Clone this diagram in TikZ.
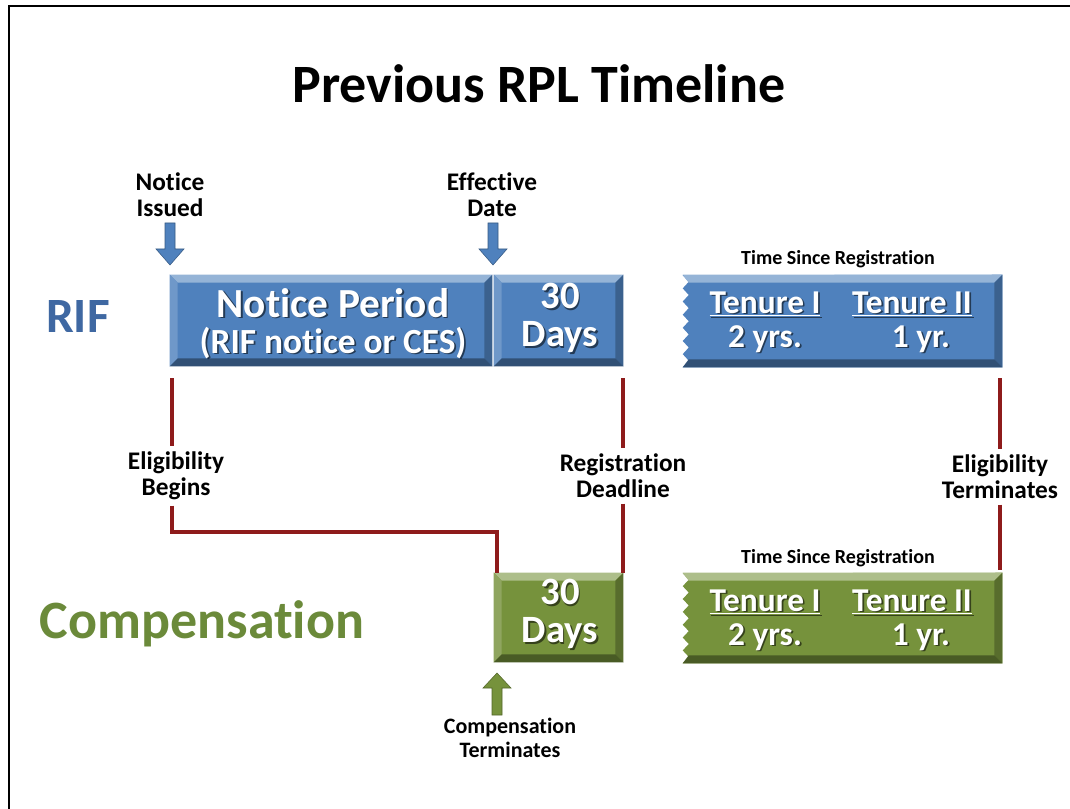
\documentclass[tikz,border=0pt]{standalone}
\usepackage{fontspec}
\setmainfont{Carlito}[Ligatures=CommonOff]
\usetikzlibrary{calc,fit}

\definecolor{rifblue}{HTML}{4F81BD}
\definecolor{rifword}{HTML}{3F68A2}
\definecolor{olive}{HTML}{76923C}
\definecolor{compword}{HTML}{6B8A3A}
\definecolor{linered}{HTML}{8E1B1B}

\newcommand\fs[2]{\fontsize{#1}{#2}\selectfont}

% bevelled rectangle over a fitted node
\newcommand\bevel[2]{%
  \fill[#2] (#1.north west) rectangle (#1.south east);
  \fill[#2!60!white] (#1.north west) -- (#1.north east) -- ($(#1.north east)+(-6pt,-6pt)$) -- ($(#1.north west)+(6pt,-6pt)$) -- cycle;
  \fill[#2!82!white] (#1.north west) -- ($(#1.north west)+(6pt,-6pt)$) -- ($(#1.south west)+(6pt,6pt)$) -- (#1.south west) -- cycle;
  \fill[#2!75!black] (#1.north east) -- (#1.south east) -- ($(#1.south east)+(-6pt,6pt)$) -- ($(#1.north east)+(-6pt,-6pt)$) -- cycle;
  \fill[#2!62!black] (#1.south west) -- (#1.south east) -- ($(#1.south east)+(-6pt,6pt)$) -- ($(#1.south west)+(6pt,6pt)$) -- cycle;
}

% bevelled box with a torn (zigzag) left edge; #3 = half tooth height
\newcommand\jagbox[3]{%
  \fill[#2] (#1.north east) -- (#1.south east) -- (#1.south west)
    \foreach \k in {1,...,7}{ -- ++(4.5pt,#3) -- ++(-4.5pt,#3)} -- cycle;
  \fill[#2!60!white] (#1.north west) -- (#1.north east) -- ($(#1.north east)+(-6pt,-6pt)$) -- ($(#1.north west)+(4.5pt,-6pt)$) -- cycle;
  \fill[#2!75!black] (#1.north east) -- (#1.south east) -- ($(#1.south east)+(-6pt,6pt)$) -- ($(#1.north east)+(-6pt,-6pt)$) -- cycle;
  \fill[#2!62!black] (#1.south west) -- (#1.south east) -- ($(#1.south east)+(-6pt,6pt)$) -- ($(#1.south west)+(4.5pt,6pt)$) -- cycle;
}

% white text with a soft dark drop shadow
\newcommand\wtext[5][center]{%
  \node[font=#4, text=black, opacity=0.55, align=center, anchor=#1] at ($(#3)+(1.3pt,-1.3pt)$) {#5};
  \node[font=#4, text=white, align=center, anchor=#1] (#2) at (#3) {#5};
}

% block arrows: tip coordinate, colour
\newcommand\arrowdown[2]{%
  \fill[#2, draw=#2!70!black, line width=0.4pt]
    ($(#1)+(-5,-42)$) -- ($(#1)+(5,-42)$) -- ($(#1)+(5,-16)$) -- ($(#1)+(14,-16)$) -- (#1)
    -- ($(#1)+(-14,-16)$) -- ($(#1)+(-5,-16)$) -- cycle;
}
\newcommand\arrowup[2]{%
  \fill[#2, draw=#2!70!black, line width=0.4pt]
    ($(#1)+(-5,42)$) -- ($(#1)+(5,42)$) -- ($(#1)+(5,15)$) -- ($(#1)+(14,15)$) -- (#1)
    -- ($(#1)+(-14,15)$) -- ($(#1)+(-5,15)$) -- cycle;
}

\begin{document}
\begin{tikzpicture}[x=0.75pt,y=-0.75pt,
  lbl/.style={font=\bfseries\fs{19}{19.5}, align=center, inner xsep=0pt, inner ysep=4pt},
  smalllbl/.style={font=\bfseries\fs{16.5}{18.5}, align=center, inner sep=0pt},
  boxsub/.style={font=\bfseries\fs{15}{15}, anchor=base},
  redline/.style={draw=linered, line width=2.4pt},
  fitbox/.style={inner sep=0pt}]
\useasboundingbox (0,0) rectangle (1070,809);
\fill[white] (0,0) rectangle (1070,809);
\draw[line width=1.5pt] (9,815) -- (9,6) -- (1075,6);

% headings
\node[font=\bfseries\fs{40.5}{40.5}, anchor=base] (title) at (539,103) {Previous RPL Timeline};
\node[font=\bfseries\fs{37}{37}, text=rifword, anchor=base] (rif) at (78,332) {RIF};
\node[font=\bfseries\fs{40.5}{40.5}, text=compword, anchor=base] (comp) at (202,638) {Compensation};

% RIF row
\node[fitbox, fit={(170,275) (492,366)}] (np) {};
\node[fitbox, fit={(494,275) (623,366)}] (d30) {};
\node[fitbox, fit={(683,275) (1002,367)}] (tb) {};
\bevel{np}{rifblue}
\bevel{d30}{rifblue}
\jagbox{tb}{rifblue}{4.93pt}
\wtext[base]{np1}{333,317}{\bfseries\fs{31}{31}}{Notice Period}
\wtext[base]{np2}{333,353}{\bfseries\fs{26.5}{26.5}}{(RIF notice or CES)}
\wtext{d30txt}{560,318}{\bfseries\fs{29}{29}}{30\\Days}
\wtext[base]{t1a}{765,313}{\bfseries\fs{25}{25}}{\underline{Tenure I}}
\wtext[base]{t2a}{912,313}{\bfseries\fs{25}{25}}{\underline{Tenure II}}
\wtext[base]{y1a}{765,347}{\bfseries\fs{25}{25}}{2 yrs.}
\wtext[base]{y2a}{921,347}{\bfseries\fs{25}{25}}{1 yr.}
\node[boxsub] (tsr1) at (838,265) {Time Since Registration};

% markers above the RIF row
\node[lbl] (ni) at (170,195) {Notice\\Issued};
\node[lbl] (ed) at (492,195) {Effective\\Date};
\coordinate (niTip) at (170,265);
\coordinate (edTip) at (493,265);
\arrowdown{niTip}{rifblue}
\arrowdown{edTip}{rifblue}

% compensation row
\node[fitbox, fit={(494,573) (623,662)}] (g30) {};
\node[fitbox, fit={(683,573) (1002,663)}] (tg) {};
\bevel{g30}{olive}
\jagbox{tg}{olive}{4.82pt}
\wtext{g30txt}{560,614}{\bfseries\fs{29}{29}}{30\\Days}
\wtext[base]{t1b}{765,611}{\bfseries\fs{25}{25}}{\underline{Tenure I}}
\wtext[base]{t2b}{912,611}{\bfseries\fs{25}{25}}{\underline{Tenure II}}
\wtext[base]{y1b}{765,645}{\bfseries\fs{25}{25}}{2 yrs.}
\wtext[base]{y2b}{921,645}{\bfseries\fs{25}{25}}{1 yr.}
\node[boxsub] (tsr2) at (838,563) {Time Since Registration};

\coordinate (ctTip) at (497,673);
\arrowup{ctTip}{olive}
\node[smalllbl] (ct) at (510,738) {Compensation\\Terminates};

% eligibility connectors
\node[lbl] (eb) at (176,476) {Eligibility\\Begins};
\node[lbl] (rd) at (623,476) {Registration\\Deadline};
\node[lbl] (et) at (1000,477) {Eligibility\\Terminates};
\coordinate (ebTop) at (172,378);
\coordinate (rdTop) at (623,378);
\coordinate (etTop) at (1000,378);
\coordinate (ebTurn) at (497,532);

\draw[redline] (ebTop) -- (ebTop |- eb.north);
\draw[redline] (ebTop |- eb.south) |- (ebTurn) -- (ebTurn |- g30.north);
\draw[redline] (rdTop) -- (rdTop |- rd.north);
\draw[redline] (rdTop |- rd.south) -- (rdTop |- g30.north);
\draw[redline] (etTop) -- (etTop |- et.north);
\draw[redline] (etTop |- et.south) -- ($(etTop |- tg.north)+(0,-3)$);
\end{tikzpicture}
\end{document}
